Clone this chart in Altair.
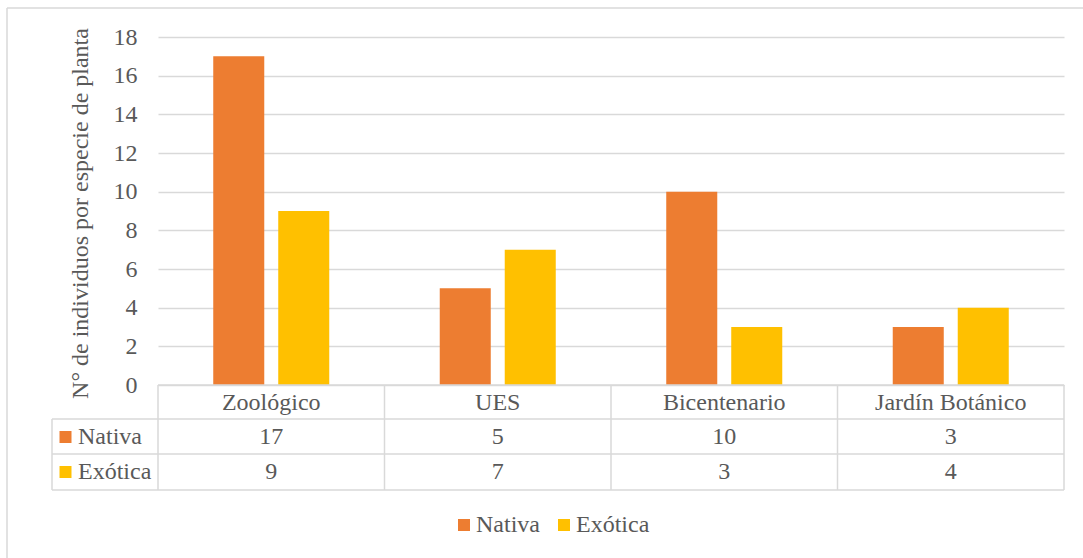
import altair as alt
import pandas as pd

# ---- data ----
sites = ["Zoológico", "UES", "Bicentenario", "Jardín Botánico"]
series = ["Nativa", "Exótica"]
nativa = [17, 5, 10, 3]
exotica = [9, 7, 3, 4]
colors = ["#ED7D31", "#FFC000"]
y_ticks = [0, 2, 4, 6, 8, 10, 12, 14, 16, 18]
y_title = "N° de individuos por especie de planta"

rows = []
for i, s in enumerate(sites):
    rows.append({"site": s, "serie": "Nativa", "valor": nativa[i]})
    rows.append({"site": s, "serie": "Exótica", "valor": exotica[i]})
df = pd.DataFrame(rows)
sites_df = pd.DataFrame({"site": sites})

FONT = "Liberation Serif"
FS = 24
TXT = "#595959"
GRID = "#D9D9D9"
W, H = 906, 348

xscale = alt.Scale(domain=sites, paddingInner=0, paddingOuter=0)
color_scale = alt.Scale(domain=series, range=colors)

bars = alt.Chart(df).mark_bar().encode(
    x=alt.X("site:N", scale=xscale, axis=None, sort=sites),
    xOffset=alt.XOffset("serie:N", sort=series,
                        scale=alt.Scale(domain=series, paddingInner=0.215, paddingOuter=0.85)),
    y=alt.Y("valor:Q", scale=alt.Scale(domain=[0, 18]),
            axis=alt.Axis(values=y_ticks, domain=False, ticks=False, labelPadding=21,
                          labelFont=FONT, labelFontSize=FS, labelColor=TXT,
                          gridColor=GRID, gridWidth=1.4,
                          title=y_title, titleFont=FONT, titleFontSize=FS, titleColor=TXT,
                          titleFontWeight="normal", titleAngle=270, titleX=-78, titleY=176,
                          titleAlign="center", titleBaseline="middle")),
    color=alt.Color("serie:N", scale=color_scale, sort=series,
                    legend=alt.Legend(title=None, orient="none", direction="horizontal",
                                      legendX=294, legendY=476, symbolType="square",
                                      symbolSize=144, symbolStrokeWidth=0, labelFont=FONT,
                                      labelFontSize=FS, labelColor=TXT, labelOffset=0,
                                      columnPadding=12, padding=0)),
)

layers = [bars]

# table vertical lines at category boundaries
vlines = alt.Chart(sites_df).mark_rule(color=GRID, strokeWidth=1.5).encode(
    x=alt.X("site:N", bandPosition=0, scale=xscale, sort=sites),
    y=alt.value(348), y2=alt.value(453))
layers.append(vlines)

one = pd.DataFrame({"k": [0]})
def rule(x, x2, y, y2, col=GRID, sw=1.5):
    return alt.Chart(one).mark_rule(color=col, strokeWidth=sw).encode(
        x=alt.value(x), x2=alt.value(x2), y=alt.value(y), y2=alt.value(y2))

layers += [
    rule(W, W, 348, 453),
    rule(-106, -106, 382, 453),
    rule(0, W, 348, 348),
    rule(-106, W, 382, 382),
    rule(-106, W, 417, 417),
    rule(-106, W, 453, 453),
    # outer chart border
    rule(-151, 925, -29, -29, "#D9D9D9", 1.5),
    rule(-151, -151, -29, 521, "#D9D9D9", 1.5),
]

# header labels
layers.append(alt.Chart(sites_df).mark_text(font=FONT, fontSize=FS, color=TXT, baseline="middle").encode(
    x=alt.X("site:N", scale=xscale, sort=sites), y=alt.value(366), text="site:N"))

row_y = {"Nativa": 400, "Exótica": 435}
for i, s in enumerate(series):
    sub = df[df["serie"] == s]
    layers.append(alt.Chart(sub).mark_text(font=FONT, fontSize=FS, color=TXT, baseline="middle").encode(
        x=alt.X("site:N", scale=xscale, sort=sites), y=alt.value(row_y[s]), text="valor:Q"))
    sdf = pd.DataFrame({"serie": [s]})
    layers.append(alt.Chart(sdf).mark_point(shape="square", filled=True, size=144, opacity=1).encode(
        x=alt.value(-92.5), y=alt.value(row_y[s]), color=alt.value(colors[i])))
    layers.append(alt.Chart(sdf).mark_text(font=FONT, fontSize=FS, color=TXT, align="left",
                                           baseline="middle").encode(
        x=alt.value(-80), y=alt.value(row_y[s]), text="serie:N"))

chart = alt.layer(*layers).properties(
    width=W, height=H,
    autosize=alt.AutoSizeParams(type="none"),
    padding={"left": 158, "top": 37, "right": 19, "bottom": 173},
    background="white",
    view=alt.ViewBackground(stroke=None),
)

chart.save("out.html", embed_options={"renderer": "svg", "actions": False})
